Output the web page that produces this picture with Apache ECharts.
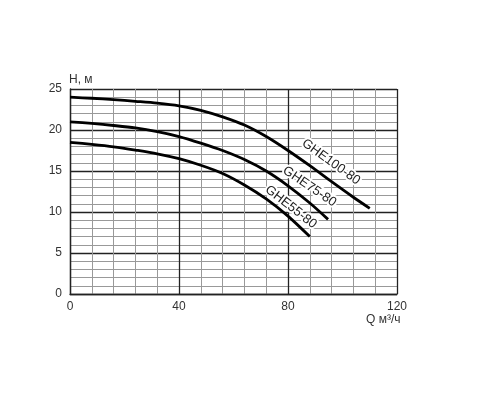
<!DOCTYPE html>
<html><head><meta charset="utf-8">
<script src="https://cdn.jsdelivr.net/npm/echarts@6/dist/echarts.min.js"></script>
<style>html,body{margin:0;padding:0;background:#fff}#c{width:500px;height:400px}</style>
</head><body><div id="c"></div>
<script>
var seriesNames = ['GHE100-80', 'GHE75-80', 'GHE55-80'];
var ghe100 = [[0,24],[8,23.87],[16,23.7],[24,23.5],[32,23.28],[40,22.95],[48,22.4],[56,21.6],[64,20.6],[72,19.2],[80,17.5],[88,15.65],[96,13.7],[104,11.8],[110,10.45]];
var ghe75 = [[0,21],[8,20.8],[16,20.55],[24,20.25],[32,19.8],[40,19.2],[48,18.4],[56,17.5],[64,16.4],[72,15.0],[80,13.2],[88,11.1],[94.7,9.1]];
var ghe55 = [[0,18.5],[8,18.25],[16,17.95],[24,17.55],[32,17.1],[40,16.5],[48,15.7],[56,14.7],[64,13.3],[72,11.6],[80,9.5],[88,7.0]];
var labelPos = [[95.8,16.1],[87.9,13.1],[81.1,10.6]];
var labelRot = [-36,-34,-38];
var xTicks = [0,40,80,120];
var yTicks = [0,5,10,15,20,25];
var xName = 'Q м³/ч';
var yName = 'H, м';

var datas = [ghe100, ghe75, ghe55];
var font = 'Liberation Sans, Arial, sans-serif';
var chart = echarts.init(document.getElementById('c'));
chart.setOption({
  animation:false,
  backgroundColor:'#fff',
  grid:{left:70,right:103,top:89,bottom:106},
  xAxis:{type:'value',min:xTicks[0],max:xTicks[xTicks.length-1],interval:40,
    name:xName,nameLocation:'end',nameGap:-31,
    nameTextStyle:{color:'#333',fontSize:12,fontFamily:font,align:'left',verticalAlign:'top',padding:[20,0,0,0]},
    axisLine:{show:true,lineStyle:{color:'#222',width:1.3}},axisTick:{show:false},
    axisLabel:{color:'#333',fontSize:12,fontFamily:font,margin:7},
    splitLine:{show:true,lineStyle:{color:'#222',width:1.3}},
    minorTick:{show:false,splitNumber:5},
    minorSplitLine:{show:true,lineStyle:{color:'#999',width:1}}
  },
  yAxis:{type:'value',min:yTicks[0],max:yTicks[yTicks.length-1],interval:5,
    name:yName,nameLocation:'end',nameGap:3,
    nameTextStyle:{color:'#333',fontSize:12,fontFamily:font,align:'left',padding:[0,0,0,-1]},
    axisLine:{show:true,lineStyle:{color:'#222',width:1.3}},axisTick:{show:false},
    axisLabel:{color:'#333',fontSize:12,fontFamily:font,margin:8},
    splitLine:{show:true,lineStyle:{color:'#222',width:1.3}},
    minorTick:{show:false,splitNumber:5},
    minorSplitLine:{show:true,lineStyle:{color:'#999',width:1}}
  },
  series: datas.map(function(d,i){
    return {type:'line',name:seriesNames[i],data:d,smooth:0.3,showSymbol:false,symbol:'none',
      lineStyle:{color:'#000',width:2.8},
      markPoint:{symbol:'circle',symbolSize:0,
        data:[{coord:labelPos[i],value:seriesNames[i]}],
        label:{show:true,formatter:seriesNames[i],rotate:labelRot[i],color:'#222',fontSize:13,fontFamily:font,
          position:'inside',textBorderColor:'#fff',textBorderWidth:4}
      }
    };
  })
});
</script></body></html>
